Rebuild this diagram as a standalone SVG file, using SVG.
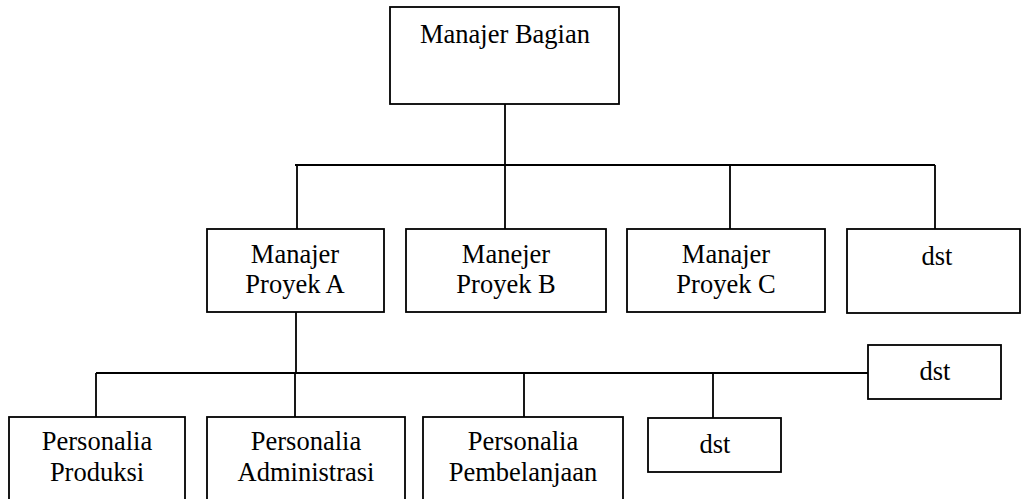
<svg xmlns="http://www.w3.org/2000/svg" width="1022" height="499" viewBox="0 0 1022 499">
<style>
.box{fill:#fff;stroke:#000;stroke-width:1.8}
.ln{fill:none;stroke:#000;stroke-width:1.8}
</style>
<rect width="1022" height="499" fill="#fff"/>
<g id="connectors">
<path class="ln" d="M505,104 V165 M295,165 H935 M297,165 V229 M505,165 V229 M730,165 V229 M935,165 V229"/>
<path class="ln" d="M296,312 V373 M96,373 H868 M96,373 V417 M295,373 V417 M524,373 V417 M713,373 V418"/>
</g>
<g font-family="Liberation Serif, DejaVu Serif, Times, serif" font-size="26.5" text-anchor="middle" fill="#000">
<g id="n-manajer-bagian"><rect class="box" x="390" y="7" width="229" height="97"/><text x="505" y="43">Manajer Bagian</text></g>
<g id="n-proyek-a"><rect class="box" x="207" y="229" width="177" height="83"/><text x="295" y="263">Manajer</text><text x="295" y="293">Proyek A</text></g>
<g id="n-proyek-b"><rect class="box" x="406" y="229" width="200" height="83"/><text x="506" y="263">Manejer</text><text x="506" y="293">Proyek B</text></g>
<g id="n-proyek-c"><rect class="box" x="627" y="229" width="198" height="83"/><text x="726" y="263">Manajer</text><text x="726" y="293">Proyek C</text></g>
<g id="n-dst-top"><rect class="box" x="847" y="229" width="173" height="84"/><text x="937" y="265">dst</text></g>
<g id="n-produksi"><rect class="box" x="9" y="417" width="176" height="100"/><text x="97" y="450">Personalia</text><text x="97" y="481">Produksi</text></g>
<g id="n-administrasi"><rect class="box" x="207" y="417" width="198" height="100"/><text x="306" y="450">Personalia</text><text x="306" y="481">Administrasi</text></g>
<g id="n-pembelanjaan"><rect class="box" x="423" y="417" width="200" height="100"/><text x="523" y="450">Personalia</text><text x="523" y="481">Pembelanjaan</text></g>
<g id="n-dst-small"><rect class="box" x="648" y="418" width="133" height="54"/><text x="715" y="453">dst</text></g>
<g id="n-dst-right"><rect class="box" x="868" y="345" width="133" height="54"/><text x="935" y="380">dst</text></g>
</g>
</svg>
